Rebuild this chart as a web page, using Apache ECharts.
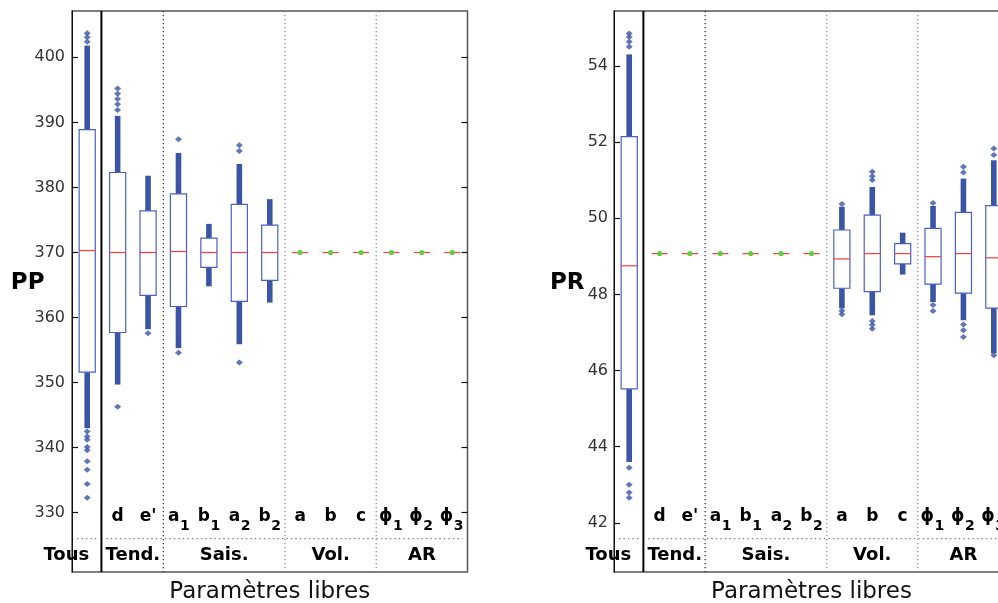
<!DOCTYPE html>
<html><head><meta charset="utf-8">
<script src="https://cdn.jsdelivr.net/npm/echarts@6/dist/echarts.min.js"></script>
<style>html,body{margin:0;padding:0;background:#fff}#c{width:998px;height:603px}</style>
</head><body><div id="c"></div>
<script>
// ---------- data ----------
const categories = ['Tous', 'd', "e'", 'a1', 'b1', 'a2', 'b2', 'a', 'b', 'c', 'ϕ1', 'ϕ2', 'ϕ3'];
const paramBase = ['', 'd', "e'", 'a', 'b', 'a', 'b', 'a', 'b', 'c', 'ϕ', 'ϕ', 'ϕ'];
const paramSub  = ['', '', '', '1', '1', '2', '2', '', '', '', '1', '2', '3'];
const groupNames = ['Tous', 'Tend.', 'Sais.', 'Vol.', 'AR'];
const groupStart = [0, 1, 3, 7, 10];
const groupEnd   = [0, 2, 6, 9, 12];

const ppTicks = [330, 340, 350, 360, 370, 380, 390, 400];
const prTicks = [42, 44, 46, 48, 50, 52, 54];

// PP panel
const ppQ1  = [351.6, 357.7, 363.4, 361.7, 367.7, 362.5, 365.7, 370, 370, 370, 370, 370, 370];
const ppMed = [370.3, 370, 370, 370.15, 370, 370, 370, 370, 370, 370, 370, 370, 370];
const ppQ3  = [388.9, 382.3, 376.4, 379.0, 372.2, 377.4, 374.2, 370, 370, 370, 370, 370, 370];
const ppUpperRun = [401.8, 391.0, 381.8, 385.3, 374.4, 383.6, 378.2, null, null, null, null, null, null];
const ppLowerRun = [343.0, 349.7, 358.2, 355.3, 364.8, 355.9, 362.3, null, null, null, null, null, null];
const ppOutliers = [
  [0, 402.4], [0, 403.1], [0, 403.7],
  [0, 342.5], [0, 341.7], [0, 341.2], [0, 340.1], [0, 339.6], [0, 337.9], [0, 336.6], [0, 334.4], [0, 332.3],
  [1, 391.9], [1, 392.8], [1, 393.6], [1, 394.4], [1, 395.2], [1, 346.3],
  [2, 357.6],
  [3, 387.4], [3, 354.6],
  [5, 385.6], [5, 386.5], [5, 353.1]
];

// PR panel
const prQ1  = [45.52, 49.07, 49.07, 49.07, 49.07, 49.07, 49.07, 48.16, 48.07, 48.80, 48.27, 48.03, 47.64];
const prMed = [48.75, 49.07, 49.07, 49.07, 49.07, 49.07, 49.07, 48.93, 49.07, 49.07, 48.99, 49.07, 48.96];
const prQ3  = [52.14, 49.07, 49.07, 49.07, 49.07, 49.07, 49.07, 49.69, 50.08, 49.33, 49.73, 50.15, 50.33];
const prUpperRun = [54.30, null, null, null, null, null, null, 50.30, 50.82, 49.62, 50.32, 51.04, 51.52];
const prLowerRun = [43.60, null, null, null, null, null, null, 47.63, 47.45, 48.52, 47.80, 47.32, 46.45];
const prOutliers = [
  [0, 54.50], [0, 54.63], [0, 54.76], [0, 54.85],
  [0, 43.45], [0, 43.00], [0, 42.80], [0, 42.66],
  [7, 50.37], [7, 47.57], [7, 47.48],
  [8, 51.00], [8, 51.10], [8, 51.22], [8, 47.30], [8, 47.20], [8, 47.10],
  [10, 50.40], [10, 47.72], [10, 47.56],
  [11, 51.20], [11, 51.35], [11, 47.21], [11, 47.06], [11, 46.88],
  [12, 51.66], [12, 51.83], [12, 46.40]
];

// ---------- styles ----------
const BOX = '#4a5fc1';
const OUT = '#3a54a6';
const MED = '#ff3b3b';
const CONST_DOT = '#5fcf3f';
const FONT = 'DejaVu Sans';

function boxData(q1, med, q3, up, low) {
  return categories.map((c, i) => [i, q1[i], med[i], q3[i],
    up[i] == null ? q3[i] : up[i], low[i] == null ? q1[i] : low[i]]);
}

function renderBox(params, api) {
  const i = api.value(0), q1 = api.value(1), med = api.value(2), q3 = api.value(3);
  const hi = api.value(4), lo = api.value(5);
  const bw = api.size([1, 0])[0];
  const w = bw * 0.53;
  const pQ1 = api.coord([i, q1]), pQ3 = api.coord([i, q3]), pM = api.coord([i, med]);
  const x = pM[0];
  const ch = [];
  if (hi > q3) {
    const pH = api.coord([i, hi]);
    ch.push({ type: 'rect', shape: { x: x - 2.8, y: pH[1], width: 5.6, height: pQ3[1] - pH[1] }, style: { fill: OUT } });
  }
  if (lo < q1) {
    const pL = api.coord([i, lo]);
    ch.push({ type: 'rect', shape: { x: x - 2.8, y: pQ1[1], width: 5.6, height: pL[1] - pQ1[1] }, style: { fill: OUT } });
  }
  if (q3 > q1) {
    ch.push({ type: 'rect', shape: { x: x - w / 2, y: pQ3[1], width: w, height: pQ1[1] - pQ3[1] },
      style: { fill: '#fff', stroke: BOX, lineWidth: 1.2 } });
  }
  ch.push({ type: 'line', shape: { x1: x - w / 2, y1: pM[1], x2: x + w / 2, y2: pM[1] }, style: { stroke: MED, lineWidth: 1.2 } });
  if (q3 === q1) {
    ch.push({ type: 'circle', shape: { cx: x, cy: pM[1], r: 2.6 }, style: { fill: CONST_DOT } });
  }
  return { type: 'group', children: ch };
}

function renderGroups(params, api) {
  const g = api.value(0);
  const cs = params.coordSys;
  const bw = api.size([1, 0])[0];
  const yBottom = cs.y + cs.height;
  const ch = [];
  const xs = api.coord([groupStart[g], 0])[0];
  const xe = api.coord([groupEnd[g], 0])[0];
  if (g > 0) {
    const xb = xs - bw / 2;
    if (g === 1) {
      ch.push({ type: 'line', shape: { x1: xb - 1, y1: cs.y, x2: xb - 1, y2: yBottom }, style: { stroke: '#000', lineWidth: 2 } });
    } else {
      ch.push({ type: 'line', shape: { x1: xb, y1: cs.y, x2: xb, y2: yBottom },
        style: { stroke: g === 2 ? '#222' : '#888', lineWidth: 1.2, lineDash: [1.3, 2.7] } });
    }
  } else {
    const xb = api.coord([groupStart[1], 0])[0] - bw / 2 - 1;
    const yh = yBottom - 33.3;
    ch.push({ type: 'line', shape: { x1: cs.x + 5, y1: yh, x2: xb - 5, y2: yh }, style: { stroke: '#777', lineWidth: 1.2, lineDash: [1.3, 3.2] } });
    ch.push({ type: 'line', shape: { x1: xb + 5, y1: yh, x2: cs.x + cs.width - 5, y2: yh }, style: { stroke: '#777', lineWidth: 1.2, lineDash: [1.3, 3.2] } });
  }
  const isSingleFirst = g === 0;
  ch.push({ type: 'text', x: isSingleFirst ? xs + 2 : (xs + xe) / 2, y: yBottom - 16.4,
    style: { text: groupNames[g], textAlign: isSingleFirst ? 'right' : 'center', textVerticalAlign: 'middle',
      fill: '#000', font: 'bold 18px "' + FONT + '"' } });
  return { type: 'group', children: ch };
}

function renderParams(params, api) {
  const i = api.value(0);
  const cs = params.coordSys;
  const yBottom = cs.y + cs.height;
  const x = api.coord([i, 0])[0];
  const base = paramBase[i], sub = paramSub[i];
  const ch = [];
  if (!base) return { type: 'group', children: [] };
  ch.push({ type: 'text', x: sub ? x + 1 : x, y: yBottom - 55.3,
    style: { text: base, textAlign: sub ? 'right' : 'center', textVerticalAlign: 'middle', fill: '#000',
      font: 'bold 17px "' + FONT + '"' } });
  if (sub) {
    ch.push({ type: 'text', x: x + 1.5, y: yBottom - 45.5,
      style: { text: sub, textAlign: 'left', textVerticalAlign: 'middle', fill: '#000',
        font: 'bold 14px "' + FONT + '"' } });
  }
  return { type: 'group', children: ch };
}

const grids = [
  { left: 72, top: 11, width: 395.5, height: 561 },
  { left: 614, top: 11, width: 395, height: 561 }
];
const panels = [
  { name: 'PP', min: 320.89, max: 407.12, ticks: ppTicks, margin: 7, gap: 27.5,
    data: boxData(ppQ1, ppMed, ppQ3, ppUpperRun, ppLowerRun), out: ppOutliers },
  { name: 'PR', min: 40.71, max: 55.44, ticks: prTicks, margin: 6, gap: 29.5,
    data: boxData(prQ1, prMed, prQ3, prUpperRun, prLowerRun), out: prOutliers }
];

const option = {
  animation: false,
  backgroundColor: '#fff',
  grid: grids.map(g => Object.assign({ show: true, borderColor: '#555', borderWidth: 1.5, backgroundColor: 'transparent',
    containLabel: false, outerBoundsMode: 'none' }, g)),
  xAxis: panels.map((p, k) => ({
    type: 'category', gridIndex: k, data: categories,
    axisLine: { show: false }, axisTick: { show: false }, axisLabel: { show: false }, splitLine: { show: false },
    name: 'Paramètres libres', nameLocation: 'middle', nameGap: 9, nameMoveOverlap: false,
    nameTextStyle: { fontFamily: FONT, fontSize: 23, color: '#111' }
  })),
  yAxis: [].concat(...panels.map((p, k) => [
    {
      type: 'value', gridIndex: k, min: p.min, max: p.max, position: 'left',
      axisLine: { show: true, lineStyle: { color: '#111', width: 1 } },
      axisTick: { show: true, inside: true, length: 6, customValues: p.ticks, lineStyle: { color: '#111', width: 1.2 } },
      axisLabel: { show: true, customValues: p.ticks, margin: p.margin, color: '#333', fontFamily: FONT, fontSize: 16 },
      splitLine: { show: false },
      name: p.name, nameLocation: 'middle', nameRotate: 0, nameGap: p.gap, nameMoveOverlap: false,
      nameTextStyle: { fontFamily: FONT, fontWeight: 'bold', fontSize: 23, color: '#000',
        verticalAlign: 'bottom', lineHeight: 16 }
    },
    {
      type: 'value', gridIndex: k, min: p.min, max: p.max, position: 'right',
      axisLine: { show: false },
      axisTick: { show: true, inside: true, length: 6, customValues: p.ticks, lineStyle: { color: '#111', width: 1.2 } },
      axisLabel: { show: false }, splitLine: { show: false }
    }
  ])),
  series: [].concat(...panels.map((p, k) => [
    { type: 'custom', xAxisIndex: k, yAxisIndex: 2 * k, renderItem: renderGroups, silent: true, z: 1,
      data: groupNames.map((n, g) => [g]) },
    { type: 'custom', xAxisIndex: k, yAxisIndex: 2 * k, renderItem: renderParams, silent: true, z: 1,
      data: categories.map((c, i) => [i]) },
    { type: 'custom', xAxisIndex: k, yAxisIndex: 2 * k, renderItem: renderBox, silent: true, z: 2,
      data: p.data },
    { type: 'scatter', xAxisIndex: k, yAxisIndex: 2 * k, data: p.out, symbol: 'diamond', symbolSize: [7, 6],
      itemStyle: { color: OUT }, silent: true, z: 3 }
  ]))
};

const chart = echarts.init(document.getElementById('c'), null, { renderer: 'canvas' });
chart.setOption(option);
</script>
</body></html>
